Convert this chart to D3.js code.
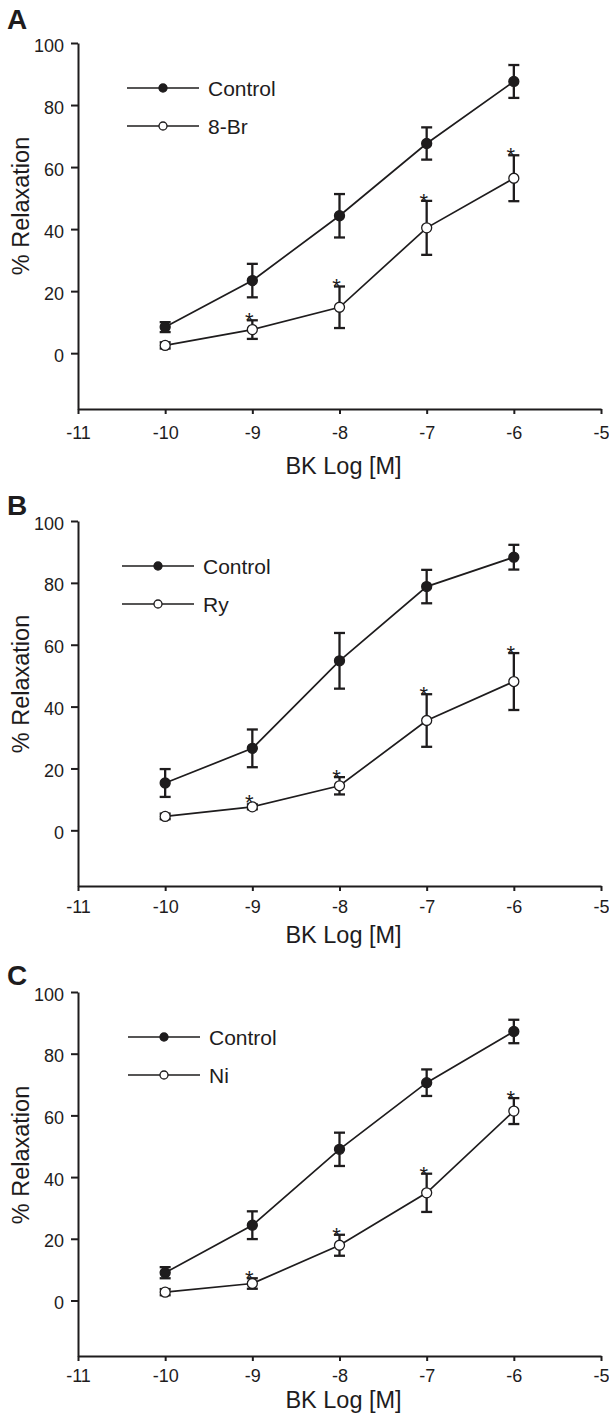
<!DOCTYPE html>
<html>
<head>
<meta charset="utf-8">
<script src="https://cdn.jsdelivr.net/npm/d3@7"></script>
<style>
  html, body { margin: 0; padding: 0; background: #fff; }
  svg { display: block; font-family: "Liberation Sans", Arial, Helvetica, sans-serif; }
</style>
</head>
<body>
<svg id="chart" width="609" height="1419"></svg>
<script>
// ---------------- data ----------------
const doses = [-10, -9, -8, -7, -6];
const xTicks = [-11, -10, -9, -8, -7, -6, -5];
const yTicks = [0, 20, 40, 60, 80, 100];
const panelLabels = ["A", "B", "C"];
const controlName = "Control";
const treatmentNames = ["8-Br", "Ry", "Ni"];
const xTitle = "BK Log [M]";
const yTitle = "% Relaxation";

// Panel A
const controlA    = [8.4, 23.4, 44.3, 67.6, 87.6];
const controlAErr = [1.6, 5.4, 7.0, 5.2, 5.3];
const treatA      = [2.5, 7.6, 14.8, 40.4, 56.4];
const treatAErr   = [1.0, 3.0, 6.7, 8.7, 7.4];
const sigA        = [false, true, true, true, true];

// Panel B
const controlB    = [15.3, 26.5, 54.8, 78.8, 88.3];
const controlBErr = [4.5, 6.1, 9.0, 5.4, 4.0];
const treatB      = [4.5, 7.6, 14.4, 35.5, 48.1];
const treatBErr   = [0.9, 0.8, 2.8, 8.5, 9.2];
const sigB        = [false, true, true, true, true];

// Panel C
const controlC    = [9.0, 24.4, 49.0, 70.6, 87.2];
const controlCErr = [1.8, 4.5, 5.4, 4.3, 3.8];
const treatC      = [2.7, 5.5, 17.9, 34.9, 61.4];
const treatCErr   = [1.0, 1.7, 3.4, 6.2, 4.2];
const sigC        = [false, true, true, true, true];

const panels = [
  { label: panelLabels[0], name: treatmentNames[0], ctrl: controlA, ctrlErr: controlAErr, trt: treatA, trtErr: treatAErr, sig: sigA },
  { label: panelLabels[1], name: treatmentNames[1], ctrl: controlB, ctrlErr: controlBErr, trt: treatB, trtErr: treatBErr, sig: sigB },
  { label: panelLabels[2], name: treatmentNames[2], ctrl: controlC, ctrlErr: controlCErr, trt: treatC, trtErr: treatCErr, sig: sigC }
];

// ---------------- layout ----------------
const INK = "#1e1c1d";
const panelTops = [43, 521, 992];
const plotHs = [366, 365, 364];
const labelBaselines = [29, 515, 985];
const legendXs = [127, 122, 128];
const xTitleOffsets = [65, 57, 52];
const xTickPads = [12, 9, 8];
const xLeft = 78, xRight = 601;

const svg = d3.select("#chart");

panels.forEach((p, i) => {
  const top = panelTops[i];
  const plotH = plotHs[i];
  const g = svg.append("g");

  const x = d3.scaleLinear().domain([-11, -5]).range([xLeft, xRight]);
  const y = d3.scaleLinear().domain([-18, 100]).range([top + plotH, top]);

  // panel letter
  g.append("text")
    .attr("x", 7).attr("y", labelBaselines[i])
    .attr("font-size", 28).attr("font-weight", "bold").attr("fill", INK)
    .text(p.label);

  // y axis
  const ya = g.append("g").attr("transform", `translate(${xLeft},0)`)
    .call(d3.axisLeft(y).tickValues(yTicks).tickSize(7).tickSizeOuter(0).tickPadding(7));
  ya.select(".domain").attr("stroke", INK).attr("stroke-width", 2);
  ya.selectAll(".tick line").attr("stroke", INK).attr("stroke-width", 2);
  ya.selectAll(".tick text").attr("font-size", 18).attr("fill", INK)
    .attr("font-family", "'Liberation Sans', Arial, sans-serif").attr("dy", "0.45em");

  // x axis
  const xa = g.append("g").attr("transform", `translate(0,${top + plotH})`)
    .call(d3.axisBottom(x).tickValues(xTicks).tickFormat(d => String(d)).tickSize(5).tickSizeOuter(0).tickPadding(xTickPads[i]));
  xa.select(".domain").attr("stroke", INK).attr("stroke-width", 2);
  xa.selectAll(".tick line").attr("stroke", INK).attr("stroke-width", 2);
  xa.selectAll(".tick text").attr("font-size", 18).attr("fill", INK)
    .attr("font-family", "'Liberation Sans', Arial, sans-serif");

  // axis titles
  g.append("text")
    .attr("x", (xLeft + xRight) / 2 + 4).attr("y", top + plotH + xTitleOffsets[i])
    .attr("text-anchor", "middle").attr("font-size", 23.5).attr("fill", INK)
    .text(xTitle);
  g.append("text")
    .attr("transform", `translate(29,${top + 163}) rotate(-90)`)
    .attr("text-anchor", "middle").attr("font-size", 23.5).attr("fill", INK)
    .text(yTitle);

  const series = [
    { vals: p.ctrl, errs: p.ctrlErr, fill: INK, sig: null },
    { vals: p.trt, errs: p.trtErr, fill: "#fff", sig: p.sig }
  ];

  const line = d3.line().x(d => x(d.dose)).y(d => y(d.v));

  series.forEach(s => {
    const pts = doses.map((d, k) => ({ dose: d, v: s.vals[k], e: s.errs[k], sig: s.sig ? s.sig[k] : false }));

    g.append("path").datum(pts)
      .attr("d", line).attr("fill", "none").attr("stroke", INK).attr("stroke-width", 1.7);

    const eb = g.append("g").attr("stroke", INK).attr("stroke-width", 2.3).attr("fill", "none");
    pts.forEach(d => {
      const cx = x(d.dose), y1 = y(d.v + d.e), y2 = y(d.v - d.e);
      eb.append("line").attr("x1", cx).attr("x2", cx).attr("y1", y1).attr("y2", y2);
      eb.append("line").attr("x1", cx - 5.5).attr("x2", cx + 5.5).attr("y1", y1).attr("y2", y1);
      eb.append("line").attr("x1", cx - 5.5).attr("x2", cx + 5.5).attr("y1", y2).attr("y2", y2);
    });

    g.selectAll(null).data(pts).enter().append("circle")
      .attr("cx", d => x(d.dose)).attr("cy", d => y(d.v)).attr("r", 5)
      .attr("fill", s.fill).attr("stroke", INK).attr("stroke-width", 1.3);

    g.selectAll(null).data(pts.filter(d => d.sig)).enter().append("text")
      .attr("x", d => x(d.dose) - 3)
      .attr("y", d => Math.min(y(d.v + d.e), y(d.v) - 5) + 8)
      .attr("text-anchor", "middle").attr("font-size", 22).attr("fill", INK)
      .text("*");
  });

  // legend
  const lx = legendXs[i];
  const legendItems = [
    { name: controlName, fill: INK, dy: 45 },
    { name: p.name, fill: "#fff", dy: 83 }
  ];
  legendItems.forEach(it => {
    const ly = top + it.dy;
    g.append("line").attr("x1", lx).attr("x2", lx + 72).attr("y1", ly).attr("y2", ly)
      .attr("stroke", INK).attr("stroke-width", 1.7);
    g.append("circle").attr("cx", lx + 36).attr("cy", ly).attr("r", 4)
      .attr("fill", it.fill).attr("stroke", INK).attr("stroke-width", 1.3);
    g.append("text").attr("x", lx + 81).attr("y", ly + 7.5)
      .attr("font-size", 21).attr("fill", INK).text(it.name);
  });
});
</script>
</body>
</html>
